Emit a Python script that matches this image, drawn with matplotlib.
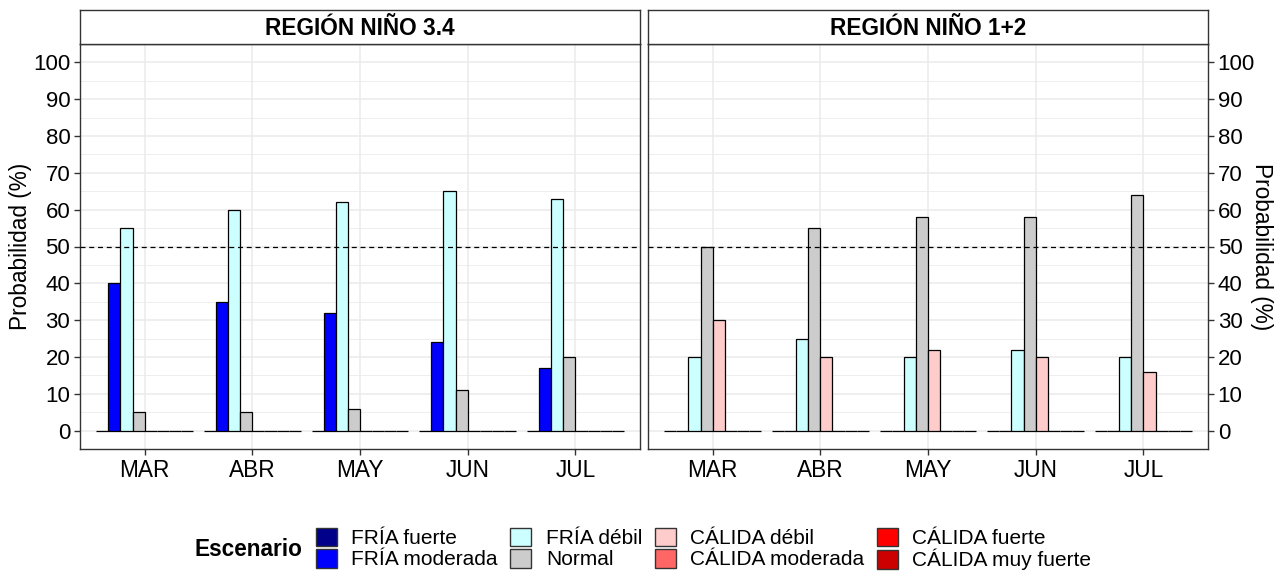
import matplotlib
matplotlib.use("Agg")
import matplotlib.pyplot as plt
from matplotlib.patches import Patch
import numpy as np

plt.rcParams['font.family'] = ['Liberation Sans', 'DejaVu Sans']

months = ["MAR", "ABR", "MAY", "JUN", "JUL"]
scenarios = ["FRÍA fuerte", "FRÍA moderada", "FRÍA débil", "Normal",
             "CÁLIDA débil", "CÁLIDA moderada", "CÁLIDA fuerte", "CÁLIDA muy fuerte"]
colors = ["#00008B", "#0000FF", "#CCFFFF", "#CCCCCC",
          "#FFCCCC", "#FF6666", "#FF0000", "#CC0000"]
panels = ["REGIÓN NIÑO 3.4", "REGIÓN NIÑO 1+2"]

# values per scenario per month
nino34 = {
    "FRÍA fuerte":       [0, 0, 0, 0, 0],
    "FRÍA moderada":     [40, 35, 32, 24, 17],
    "FRÍA débil":        [55, 60, 62, 65, 63],
    "Normal":            [5, 5, 6, 11, 20],
    "CÁLIDA débil":      [0, 0, 0, 0, 0],
    "CÁLIDA moderada":   [0, 0, 0, 0, 0],
    "CÁLIDA fuerte":     [0, 0, 0, 0, 0],
    "CÁLIDA muy fuerte": [0, 0, 0, 0, 0],
}
nino12 = {
    "FRÍA fuerte":       [0, 0, 0, 0, 0],
    "FRÍA moderada":     [0, 0, 0, 0, 0],
    "FRÍA débil":        [20, 25, 20, 22, 20],
    "Normal":            [50, 55, 58, 58, 64],
    "CÁLIDA débil":      [30, 20, 22, 20, 16],
    "CÁLIDA moderada":   [0, 0, 0, 0, 0],
    "CÁLIDA fuerte":     [0, 0, 0, 0, 0],
    "CÁLIDA muy fuerte": [0, 0, 0, 0, 0],
}
threshold = 50
yticks = list(range(0, 101, 10))

W, H = 1282, 574
fig = plt.figure(figsize=(W / 100, H / 100), dpi=100)

def fx(px):
    return px / W

def fy(py):
    return 1 - py / H

panel_x = [(80, 640), (648, 1208)]
top_px, bot_px, strip_top = 44, 449, 10
fs = 16.0
dark = "#333333"
gridc = "#EBEBEB"

n = len(scenarios)
dodge = 0.9
bw = dodge / n
xpos = np.arange(1, len(months) + 1)

for k, (data, title) in enumerate(zip([nino34, nino12], panels)):
    x0, x1 = panel_x[k]
    ax = fig.add_axes([fx(x0), fy(bot_px), fx(x1 - x0), (bot_px - top_px) / H])
    ax.set_xlim(0.4, len(months) + 0.6)
    ax.set_ylim(-5, 105)
    ax.set_axisbelow(True)
    for y in np.arange(5, 100, 10):
        ax.axhline(y, color=gridc, lw=0.6, zorder=0)
    for y in yticks:
        ax.axhline(y, color=gridc, lw=1.1, zorder=0)
    for x in xpos:
        ax.axvline(x, color=gridc, lw=1.1, zorder=0)
    for i, s in enumerate(scenarios):
        off = -dodge / 2 + (i + 0.5) * bw
        ax.bar(xpos + off, data[s], width=bw, color=colors[i],
               edgecolor="black", linewidth=0.9, zorder=2)
    ax.axhline(threshold, color="black", lw=0.9, ls=(0, (4, 3)), zorder=3)
    ax.set_xticks(xpos)
    ax.set_xticklabels(months, fontsize=16.3, color="black")
    ax.set_yticks(yticks)
    ax.tick_params(axis="both", length=4, width=1, color=dark, labelsize=fs,
                   labelcolor="black", pad=3)
    ax.tick_params(axis="x", labelsize=16.3)
    for sp in ax.spines.values():
        sp.set_color(dark)
        sp.set_linewidth(1.0)
    if k == 0:
        ax.set_ylabel("Probabilidad (%)", fontsize=16.3, va="center")
        ax.yaxis.set_label_coords((21 - x0) / (x1 - x0), 0.5)
    else:
        ax.yaxis.tick_right()
        ax.yaxis.set_label_position("right")
        ax.set_ylabel("Probabilidad (%)", fontsize=16.3, rotation=270,
                      va="center")
        ax.yaxis.set_label_coords((1261 - x0) / (x1 - x0), 0.5)
    sax = fig.add_axes([fx(x0), fy(top_px), fx(x1 - x0), (top_px - strip_top) / H])
    sax.set_xticks([])
    sax.set_yticks([])
    sax.set_facecolor("white")
    for sp in sax.spines.values():
        sp.set_color(dark)
        sp.set_linewidth(1.0)
    sax.text(0.5, 0.47, title, ha="center", va="center", fontsize=16.3,
             fontweight="bold", transform=sax.transAxes)

handles = [Patch(facecolor=c, edgecolor="#333333", linewidth=1.0) for c in colors]
fig.text(fx(302), fy(549), "Escenario", ha="right", va="center",
         fontsize=16.3, fontweight="bold")
leg = fig.legend(handles, scenarios, ncol=4, loc="center left",
                 bbox_to_anchor=(fx(316), fy(549)), frameon=False,
                 fontsize=15, handlelength=1.0, handleheight=1.0,
                 labelspacing=0.05, handletextpad=0.7, columnspacing=0.6,
                 borderpad=0.0, borderaxespad=0.0)

fig.savefig("out.png", dpi=100)
